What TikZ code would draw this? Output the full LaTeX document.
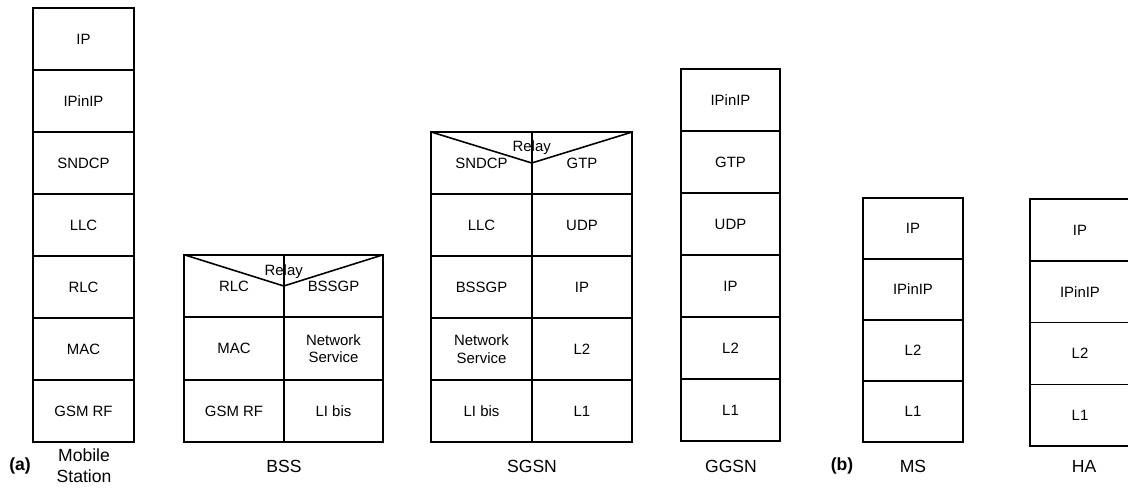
\documentclass[tikz,border=0pt]{standalone}
\usepackage{fontspec}
\setmainfont{Liberation Sans}
\usetikzlibrary{positioning}

\begin{document}
\begin{tikzpicture}[
	x=0.02cm, y=-0.02cm,
	node distance=0pt,
	layer/.style={draw, line width=0.9pt, outer sep=0pt, inner sep=1pt, align=center, font=\fontsize{8.5}{10}\selectfont},
	ms_layer/.style={layer, minimum width=2.02cm, minimum height=1.24cm},
	bss_layer/.style={layer, minimum width=1.99cm, minimum height=1.25cm},
	sgsn_layer/.style={layer, minimum width=2.01cm, minimum height=1.24cm},
	ggsn_layer/.style={layer, minimum width=1.98cm, minimum height=1.24cm},
	mip_layer/.style={layer, minimum width=2cm, minimum height=1.22cm},
	ha_layer/.style={layer, minimum width=2cm, minimum height=1.235cm},
	relay_line/.style={line width=0.9pt},
	relay_text/.style={inner sep=0pt, font=\fontsize{8.5}{10}\selectfont},
	stack_label/.style={align=center, font=\fontsize{10}{12}\selectfont}
	]
	\useasboundingbox (0,0) rectangle (1128,500);
	
	% --- (a) Mobile Station ---
	\node[ms_layer] (msIP) at (83.5,39) {IP};
	\node[ms_layer] (msIPinIP) [below=of msIP] {IPinIP};
	\node[ms_layer] (msSNDCP) [below=of msIPinIP] {SNDCP};
	\node[ms_layer] (msLLC) [below=of msSNDCP] {LLC};
	\node[ms_layer] (msRLC) [below=of msLLC] {RLC};
	\node[ms_layer] (msMAC) [below=of msRLC] {MAC};
	\node[ms_layer] (msRF) [below=of msMAC] {GSM RF};
	
	% --- BSS ---
	\node[bss_layer] (bssRLC) at (234,286) {RLC};
	\node[bss_layer] (bssMAC) [below=of bssRLC] {MAC};
	\node[bss_layer] (bssRF) [below=of bssMAC] {GSM RF};
	\node[bss_layer] (bssBSSGP) [right=of bssRLC] {BSSGP};
	\node[bss_layer] (bssNS) [right=of bssMAC] {Network\\Service};
	\node[bss_layer] (bssL1) [right=of bssRF] {LI bis};
	
	% --- SGSN ---
	\node[sgsn_layer] (sgsnSNDCP) at (481.5,163) {SNDCP};
	\node[sgsn_layer] (sgsnLLC) [below=of sgsnSNDCP] {LLC};
	\node[sgsn_layer] (sgsnBSSGP) [below=of sgsnLLC] {BSSGP};
	\node[sgsn_layer] (sgsnNS) [below=of sgsnBSSGP] {Network\\Service};
	\node[sgsn_layer] (sgsnLIbis) [below=of sgsnNS] {LI bis};
	\node[sgsn_layer] (sgsnGTP) [right=of sgsnSNDCP] {GTP};
	\node[sgsn_layer] (sgsnUDP) [right=of sgsnLLC] {UDP};
	\node[sgsn_layer] (sgsnIP) [right=of sgsnBSSGP] {IP};
	\node[sgsn_layer] (sgsnL2) [right=of sgsnNS] {L2};
	\node[sgsn_layer] (sgsnL1) [right=of sgsnLIbis] {L1};
	
	% --- GGSN ---
	\node[ggsn_layer] (ggsnIPinIP) at (730.5,100) {IPinIP};
	\node[ggsn_layer] (ggsnGTP) [below=of ggsnIPinIP] {GTP};
	\node[ggsn_layer] (ggsnUDP) [below=of ggsnGTP] {UDP};
	\node[ggsn_layer] (ggsnIP) [below=of ggsnUDP] {IP};
	\node[ggsn_layer] (ggsnL2) [below=of ggsnIP] {L2};
	\node[ggsn_layer] (ggsnL1) [below=of ggsnL2] {L1};
	
	% --- (b) MS ---
	\node[mip_layer] (mipIP) at (913,228.5) {IP};
	\node[mip_layer] (mipIPinIP) [below=of mipIP] {IPinIP};
	\node[mip_layer] (mipL2) [below=of mipIPinIP] {L2};
	\node[mip_layer] (mipL1) [below=of mipL2] {L1};
	
	% --- HA ---
	\node[ha_layer] (haIP) at (1080,230) {IP};
	\node[ha_layer] (haIPinIP) [below=of haIP] {IPinIP};
	\node[ha_layer] (haL2) [below=of haIPinIP] {L2};
	\node[ha_layer] (haL1) [below=of haL2] {L1};
	
	% relay wedges
	\draw[relay_line] (bssRLC.north west) -- (bssRLC.east) -- (bssBSSGP.north east);
	\node[relay_text] (bssRelay) at ([yshift=-0.34cm]bssRLC.north east) {Relay};
	\draw[relay_line] (sgsnSNDCP.north west) -- (sgsnSNDCP.east) -- (sgsnGTP.north east);
	\node[relay_text] (sgsnRelay) at ([yshift=-0.32cm]sgsnSNDCP.north east) {Relay};
	
	% captions
	\node[stack_label, font=\fontsize{10}{12}\selectfont\bfseries] (tagA) at (20,466) {(a)};
	\node[stack_label] (msName) at (84,466) {Mobile\\Station};
	\node[stack_label] (bssName) at (284,466) {BSS};
	\node[stack_label] (sgsnName) at (532,466) {SGSN};
	\node[stack_label] (ggsnName) at (731,466) {GGSN};
	\node[stack_label, font=\fontsize{10}{12}\selectfont\bfseries] (tagB) at (842,466) {(b)};
	\node[stack_label] (mipName) at (913,466) {MS};
	\node[stack_label] (haName) at (1084,466) {HA};
	
\end{tikzpicture}
\end{document}
